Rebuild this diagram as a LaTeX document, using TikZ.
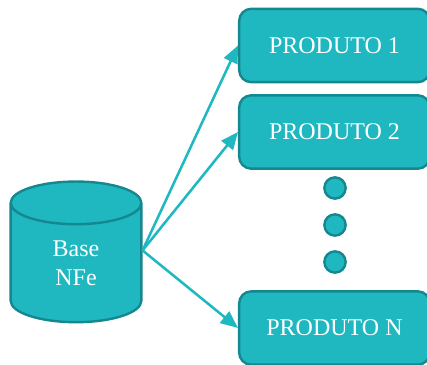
\documentclass[tikz,border=0pt]{standalone}
\usepackage{fontspec}
\setmainfont{Liberation Serif}
\usetikzlibrary{shapes.geometric,arrows.meta}
\definecolor{myteal}{RGB}{31,184,193}
\definecolor{mydark}{RGB}{20,135,143}
\begin{document}
\begin{tikzpicture}[x=0.75pt,y=-0.75pt,
  produto/.style={draw=mydark, line width=1.8pt, fill=myteal, rounded corners=9pt, text=white,
    minimum width=143pt, minimum height=55pt, font=\fontsize{18}{20}\selectfont},
  ponto/.style={circle, draw=mydark, line width=1.8pt, fill=myteal, minimum size=16pt, inner sep=0pt},
  seta/.style={draw=myteal, line width=1.9pt, -{Triangle[length=13pt,width=11pt]}}]
\useasboundingbox (0,0) rectangle (427,364);
\clip (0,0) rectangle (427,364);
% Create the database and the product boxes
\node[cylinder, shape border rotate=90, aspect=4.8, draw=mydark, line width=1.8pt, fill=myteal,
  minimum width=98pt, minimum height=105.5pt] (base) at (76,267) {};
\node[text=white, align=center, font=\fontsize{18}{21.5}\selectfont] (basetexto) at (76,263.5) {Base\\NFe};
\node[produto] (produto1) at (334.5,45.5) {PRODUTO 1};
\node[produto] (produto2) at (334.5,132) {PRODUTO 2};
\node[produto] (produtoN) at (334.5,328) {PRODUTO N};
% Dots between the boxes
\node[ponto] (ponto1) at (335,188) {};
\node[ponto] (ponto2) at (335,225) {};
\node[ponto] (ponto3) at (335,262) {};
% Add connections
\draw[seta] (base.14) -- (produto1.west);
\draw[seta] (base.14) -- (produto2.west);
\draw[seta] (base.14) -- (produtoN.west);
\end{tikzpicture}
\end{document}
